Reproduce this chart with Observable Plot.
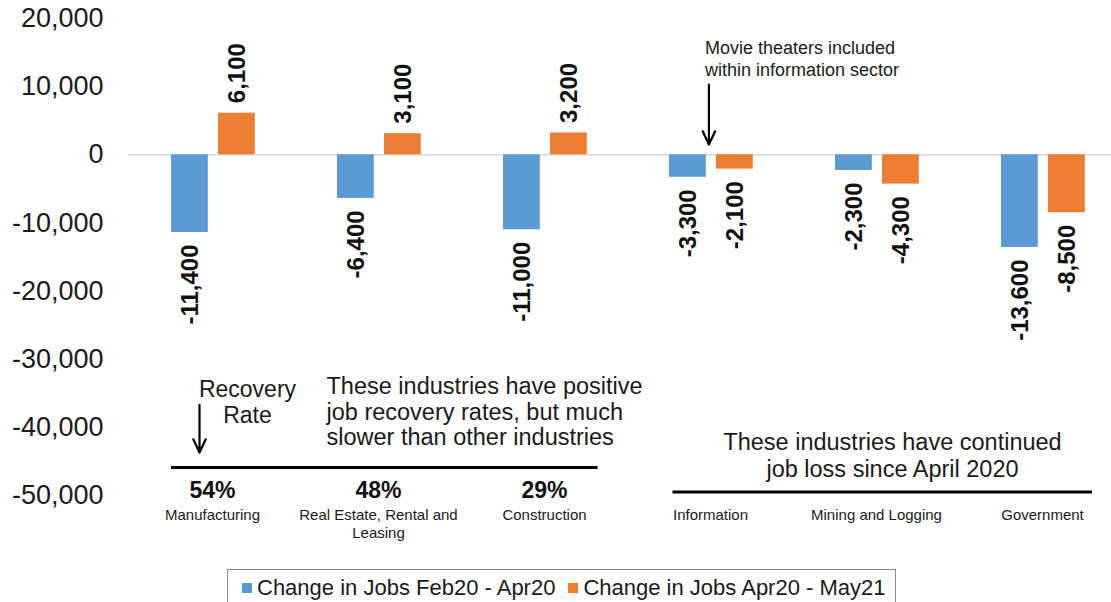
<!DOCTYPE html>
<html><head><meta charset="utf-8">
<script src="https://cdn.jsdelivr.net/npm/d3@7"></script>
<script src="https://cdn.jsdelivr.net/npm/@observablehq/plot@0.6"></script>
<style>
html,body{margin:0;padding:0;background:#fff;}
body{width:1111px;height:602px;position:relative;overflow:hidden;font-family:'Liberation Sans',Arial,sans-serif;}
#chart svg{display:block;}
.legbox{position:absolute;left:227px;top:569px;width:669px;height:40px;border:1px solid #8c8c8c;box-sizing:border-box;padding-left:14px;overflow:hidden;}
.legbox > div{margin:0 !important;min-height:0 !important;height:35px;display:flex !important;flex-wrap:nowrap !important;align-items:center !important;white-space:nowrap;font-family:'Liberation Sans',Arial,sans-serif !important;font-size:22px !important;color:#1a1a1a;}
.legbox span{margin-right:13px !important;white-space:nowrap;flex:none;}
.legbox span > svg{margin-right:5px !important;}
</style></head>
<body><div id="chart"></div><div class="legbox" id="legend"></div>
<script>
const categories = ["Manufacturing", "Real Estate, Rental and Leasing", "Construction", "Information", "Mining and Logging", "Government"];
const categoryLabels = ["Manufacturing", "Real Estate, Rental and\nLeasing", "Construction", "Information", "Mining and Logging", "Government"];
const seriesNames = ["Change in Jobs Feb20 - Apr20", "Change in Jobs Apr20 - May21"];
const seriesColors = ["#5b9bd5", "#ed7d31"];
const changeFeb20Apr20 = [-11400, -6400, -11000, -3300, -2300, -13600];
const changeApr20May21 = [6100, 3100, 3200, -2100, -4300, -8500];
const recoveryCategories = ["Manufacturing", "Real Estate, Rental and Leasing", "Construction"];
const recoveryRates = ["54%", "48%", "29%"];
const yTicks = [20000, 10000, 0, -10000, -20000, -30000, -40000, -50000];

const fmt = d => d.toLocaleString("en-US");
const font = "'Liberation Sans', Arial, sans-serif";
const ink = "#1a1a1a";

const blueData = categories.map((c, i) => ({cat: c, value: changeFeb20Apr20[i]}));
const orangeData = categories.map((c, i) => ({cat: c, value: changeApr20May21[i]}));
const rateData = recoveryCategories.map((c, i) => ({cat: c, rate: recoveryRates[i]}));
const catData = categories.map((c, i) => ({cat: c, label: categoryLabels[i]}));

function valueLabels(data, dx) {
  return [
    Plot.text(data.filter(d => d.value >= 0), {x: "cat", y: "value", text: d => fmt(d.value), rotate: -90, textAnchor: "start", dx, dy: -10, fontSize: 24, fontWeight: "bold", fill: "#111"}),
    Plot.text(data.filter(d => d.value < 0), {x: "cat", y: "value", text: d => fmt(d.value), rotate: -90, textAnchor: "end", dx, dy: 12, fontSize: 24, fontWeight: "bold", fill: "#111"})
  ];
}

const chart = Plot.plot({
  width: 1111,
  height: 566,
  marginLeft: 128,
  marginRight: 0,
  marginTop: 18,
  marginBottom: 71,
  style: {fontFamily: font, background: "white", color: ink, overflow: "visible"},
  x: {type: "band", domain: categories, range: [128, 1125], padding: 0, axis: null},
  y: {domain: [-50000, 20000], axis: null, label: null},
  marks: [
    Plot.axisY(yTicks, {tickSize: 0, tickPadding: 25, fontSize: 27, tickFormat: fmt, fill: ink, label: null}),
    Plot.ruleY([0], {stroke: "#d9d9d9", strokeWidth: 1.5}),
    Plot.barY(blueData, {x: "cat", y1: 0, y2: "value", fill: seriesColors[0], insetLeft: 42, insetRight: 87.2}),
    Plot.barY(orangeData, {x: "cat", y1: 0, y2: "value", fill: seriesColors[1], insetLeft: 89, insetRight: 40.2}),
    ...valueLabels(blueData, -22.6),
    ...valueLabels(orangeData, 24.4),
    // Movie theaters annotation
    Plot.text(["Movie theaters included\nwithin information sector"], {x: () => "Information", y: () => 14200, text: d => d, textAnchor: "start", lineAnchor: "middle", dx: -5.6, fontSize: 18, lineHeight: 1.22, fill: ink}),
    Plot.arrow([0], {x1: () => "Information", x2: () => "Information", y1: () => 10300, y2: () => 1500, dx: -1.6, stroke: "#000", strokeWidth: 2.2, headLength: 10, headAngle: 50}),
    // Recovery rate annotation
    Plot.text(["Recovery\nRate"], {x: () => "Manufacturing", y: () => -36300, text: d => d, textAnchor: "middle", lineAnchor: "middle", dx: 35, fontSize: 23, lineHeight: 1.13, fill: ink}),
    Plot.arrow([0], {x1: () => "Manufacturing", x2: () => "Manufacturing", y1: () => -36700, y2: () => -43700, dx: -13, stroke: "#000", strokeWidth: 2.2, headLength: 10, headAngle: 50}),
    Plot.text(["These industries have positive\njob recovery rates, but much\nslower than other industries"], {x: () => "Real Estate, Rental and Leasing", y: () => -37700, text: d => d, textAnchor: "start", lineAnchor: "middle", dx: -52, fontSize: 23.5, lineHeight: 1.087, fill: ink}),
    Plot.ruleY([-45900], {x1: () => "Manufacturing", x2: () => "Construction", insetLeft: 42, insetRight: 29.5, stroke: "#000", strokeWidth: 3}),
    Plot.text(["These industries have continued\njob loss since April 2020"], {x: () => "Mining and Logging", y: () => -44100, text: d => d, textAnchor: "middle", lineAnchor: "middle", dx: 16, fontSize: 23.5, lineHeight: 1.15, fill: ink}),
    Plot.ruleY([-49500], {x1: () => "Information", x2: () => "Government", insetLeft: 45.5, insetRight: 33, stroke: "#000", strokeWidth: 3}),
    // Recovery rates and category labels
    Plot.text(rateData, {x: "cat", y: () => -49300, text: "rate", lineAnchor: "middle", fontSize: 23, fontWeight: "bold", fill: "#111"}),
    Plot.text(catData, {x: "cat", y: () => -51800, text: "label", lineAnchor: "top", fontSize: 15, lineHeight: 1.17, fill: ink})
  ]
});
document.getElementById("chart").appendChild(chart);

const legend = Plot.legend({
  color: {type: "categorical", domain: seriesNames, range: seriesColors},
  swatchSize: 10
});
document.getElementById("legend").appendChild(legend);
</script></body></html>
